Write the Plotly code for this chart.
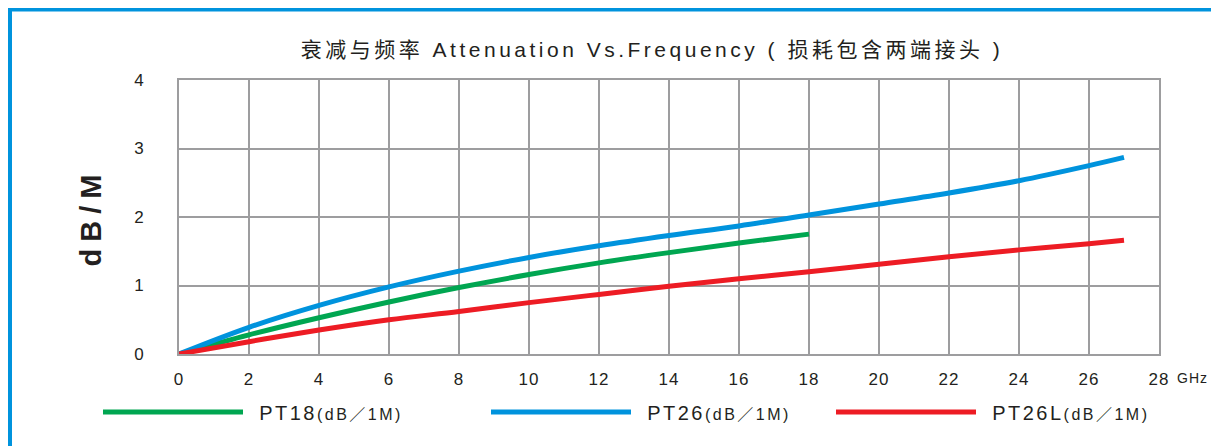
import plotly.graph_objects as go

freq_pt18 = [0, 2, 4, 6, 8, 10, 12, 14, 16, 18]
pt18 = [0, 0.28, 0.53, 0.76, 0.97, 1.16, 1.33, 1.48, 1.62, 1.75]

freq_pt26 = [0, 2, 4, 6, 8, 10, 12, 14, 16, 18, 20, 22, 24, 26, 27]
pt26 = [0, 0.39, 0.71, 0.98, 1.21, 1.41, 1.58, 1.73, 1.87, 2.03, 2.19, 2.35, 2.53, 2.75, 2.87]

freq_pt26l = [0, 2, 4, 6, 8, 10, 12, 14, 16, 18, 20, 22, 24, 26, 27]
pt26l = [0, 0.18, 0.35, 0.5, 0.62, 0.75, 0.87, 0.99, 1.1, 1.2, 1.31, 1.42, 1.52, 1.61, 1.66]

x_ticks = list(range(0, 29, 2))
y_ticks = [0, 1, 2, 3, 4]

names = ["PT18", "PT26", "PT26L"]
colors = ["#00A651", "#0093DD", "#ED1C24"]

FONT = "Liberation Sans, Arial, Noto Sans CJK SC"
INK = "#231F20"


def spaced(text, px_):
    return f"<span style='letter-spacing:{px_}px'>{text}</span>"


fig = go.Figure()
series = [(freq_pt18, pt18), (freq_pt26, pt26), (freq_pt26l, pt26l)]
legend_ids = ["legend", "legend2", "legend3"]
for (fx, fy), nm, c, lg in zip(series, names, colors, legend_ids):
    fig.add_trace(go.Scatter(
        x=fx, y=fy, mode="lines", line=dict(color=c, width=5, shape="spline"),
        name="\u00a0\u00a0" + spaced(nm, 2.5)
             + "<span style='font-size:16px;letter-spacing:2.5px'>(dB／1M)</span>",
        legend=lg,
    ))

# page is offset by the 8px body margin; figure coordinates = page - 8
OFF = 8
W, H = 1219 - OFF, 446 - OFF
L, T = 179 - OFF, 80 - OFF
R = W - (1159 - OFF)
B = H - (354 - OFF)
pw = W - L - R
ph = H - T - B


def px(x):
    return (x - OFF - L) / pw


def py(y):
    return (H - B - (y - OFF)) / ph


legend_common = dict(orientation="h", font=dict(family=FONT, size=20, color=INK),
                     bgcolor="rgba(0,0,0,0)", xanchor="left", yanchor="middle",
                     yref="paper", xref="paper", itemwidth=140)

fig.update_layout(
    width=W, height=H,
    margin=dict(l=L, r=R, t=T, b=B),
    paper_bgcolor="white", plot_bgcolor="white",
    font=dict(family=FONT, color=INK),
    title=dict(text=spaced("衰减与频率 Attenuation Vs.Frequency ( 损耗包含两端接头 )", 3.5),
               x=px(652), xref="paper", xanchor="center", y=1 - (50 - OFF) / H, yanchor="middle",
               font=dict(size=21, family=FONT, color=INK)),
    xaxis=dict(range=[0, 28], tickvals=x_ticks, ticktext=[spaced(str(v), 1) for v in x_ticks],
               showgrid=True, gridcolor="#9D9D9F", gridwidth=2,
               showline=True, linecolor="#9D9D9F", linewidth=2, mirror=True, zeroline=False,
               tickfont=dict(size=17, color=INK), ticks="", ticklabelstandoff=9),
    yaxis=dict(range=[0, 4], tickvals=y_ticks, ticktext=[str(v) for v in y_ticks],
               showgrid=True, gridcolor="#9D9D9F", gridwidth=2,
               showline=True, linecolor="#9D9D9F", linewidth=2, mirror=True, zeroline=False,
               tickfont=dict(size=17, color=INK), ticks="", ticklabelstandoff=30,
               title=dict(text="<b>" + spaced("dB/M", 7) + "</b>",
                          font=dict(size=29, family="Liberation Sans, Arial", color=INK),
                          standoff=24)),
    showlegend=True,
    legend=dict(x=px(98), y=py(412), **legend_common),
    legend2=dict(x=px(486), y=py(412), **legend_common),
    legend3=dict(x=px(831), y=py(412), **legend_common),
)

fig.add_annotation(text=spaced("GHz", 1), xref="paper", yref="paper", x=px(1175), y=py(378),
                   xanchor="left", yanchor="middle", showarrow=False,
                   font=dict(size=14, family=FONT, color=INK))

# decorative frame
fig.add_shape(type="line", xref="paper", yref="paper", x0=px(8), x1=px(1219), y0=py(9.7), y1=py(9.7),
              line=dict(color="#0093DD", width=3.5))
fig.add_shape(type="line", xref="paper", yref="paper", x0=px(10), x1=px(10), y0=py(8), y1=py(446),
              line=dict(color="#0093DD", width=4))
fig.add_shape(type="line", xref="paper", yref="paper", x0=px(1216), x1=px(1216), y0=py(8), y1=py(446),
              line=dict(color="#9FD6F2", width=2))

fig.write_html("out.html")
